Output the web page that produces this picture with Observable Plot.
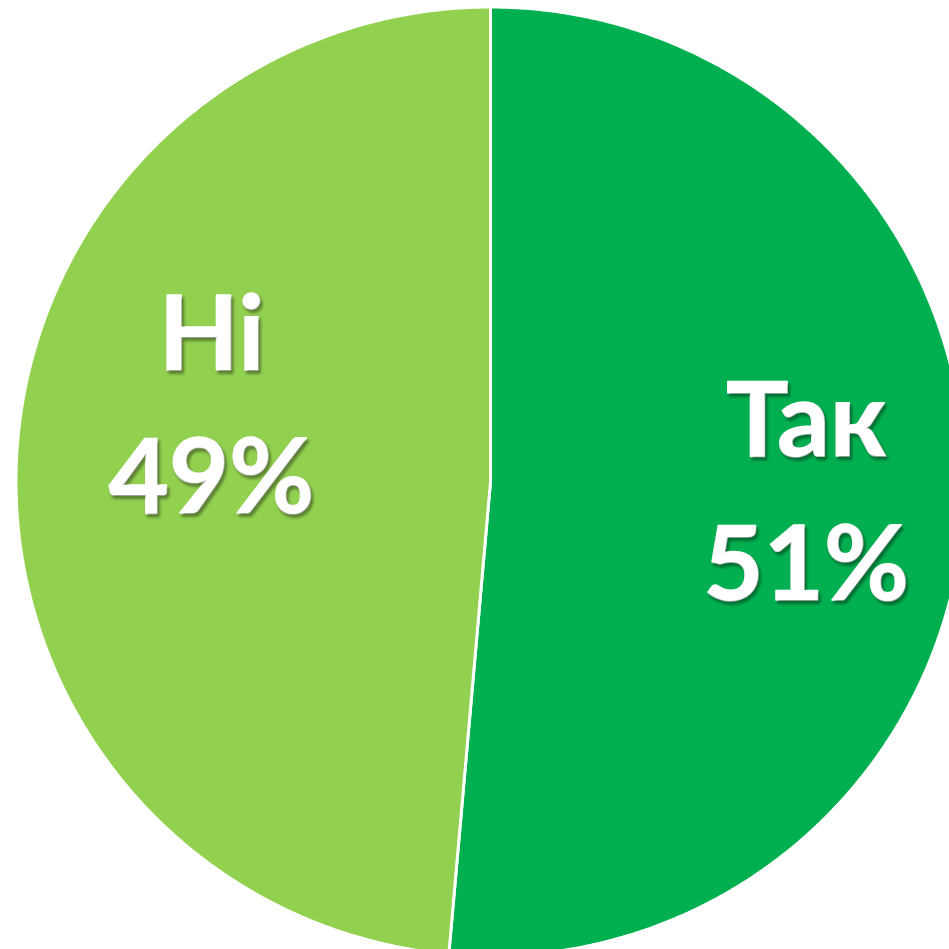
<!DOCTYPE html>
<html><head><meta charset="utf-8">
<script src="https://cdn.jsdelivr.net/npm/d3@7"></script>
<script src="https://cdn.jsdelivr.net/npm/@observablehq/plot@0.6"></script>
<style>
html,body{margin:0;padding:0;background:#fff;}
svg text{text-shadow:2px 3px 3px rgba(0,0,0,0.35);}
</style></head><body><div id="chart"></div>
<script>
const categories = ["Так", "Ні"];
const values = [51.4, 48.6];
const percentLabels = ["51%", "49%"];
const colors = ["#00B050", "#92D050"];

const slices = d3.pie().sort(null).value(d => d.value)(
  categories.map((c, i) => ({cat: c, value: values[i], label: c + "\n" + percentLabels[i]}))
);
const pts = [];
for (const s of slices) {
  const n = Math.ceil((s.endAngle - s.startAngle) * 180 / Math.PI * 3);
  pts.push({cat: s.data.cat, x: 0, y: 0});
  for (let k = 0; k <= n; k++) {
    const a = s.startAngle + (s.endAngle - s.startAngle) * k / n;
    pts.push({cat: s.data.cat, x: Math.sin(a), y: Math.cos(a)});
  }
  pts.push({cat: s.data.cat, x: 0, y: 0});
}
const labels = slices.map(s => {
  const m = (s.startAngle + s.endAngle) / 2;
  return {cat: s.data.cat, label: s.data.label, x: 0.66 * Math.sin(m), y: 0.66 * Math.cos(m)};
});
const textOpts = {x: "x", y: "y", text: "label", fill: "white", stroke: "white", strokeWidth: 1.5,
  fontSize: 104, fontWeight: "bold",
  fontFamily: "Lato, 'Open Sans', sans-serif", lineHeight: 1.38, lineAnchor: "middle", textAnchor: "middle"};

const R = 474.5;
const chart = Plot.plot({
  width: 949, height: 949, margin: 0,
  x: {domain: [-490 / R, 459 / R], axis: null},
  y: {domain: [-468 / R, 481 / R], axis: null},
  color: {domain: categories, range: colors},
  marks: [
    Plot.line(pts, {x: "x", y: "y", z: "cat", fill: "cat", stroke: "white", strokeWidth: 3, strokeLinejoin: "round", curve: "linear"}),
    Plot.text(labels.filter(d => d.cat === "Так"), {...textOpts, dx: 3, dy: -13}),
    Plot.text(labels.filter(d => d.cat === "Ні"), {...textOpts, dx: 34, dy: -72})
  ]
});
document.getElementById("chart").appendChild(chart);
</script></body></html>
